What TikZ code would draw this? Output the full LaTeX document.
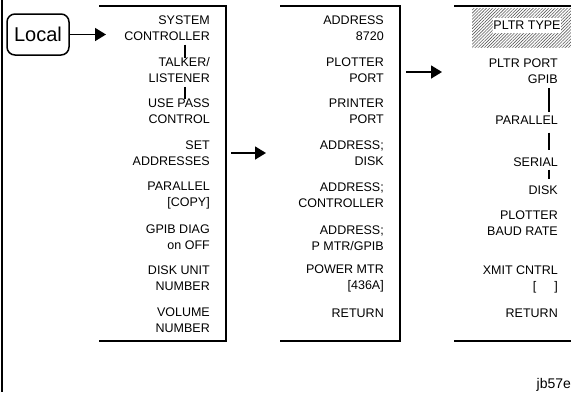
\documentclass[tikz,border=0pt]{standalone}
\usepackage{fontspec}
\setmainfont{Liberation Sans}
\usetikzlibrary{arrows.meta,patterns.meta}
\begin{document}
\begin{tikzpicture}[x=1pt,y=-1pt,
	item/.style={anchor=east,align=right,inner sep=0pt,font=\fontsize{12.5}{16}\selectfont},
	menu/.style={line width=2.5pt},
	link/.style={line width=1.5pt,shorten <=4pt,shorten >=-1pt},
	go/.style={line width=1.6pt,-{Triangle[length=11pt,width=13pt]}}]
	\useasboundingbox (0,0) rectangle (571,392);
	\draw[line width=1.5pt] (2,0)--(2,392);
	\node[draw,line width=1.5pt,rounded corners=8pt,minimum width=62pt,minimum height=41pt,font=\fontsize{20}{20}\selectfont] (local) at (38,34.5) {Local};
	\coordinate (lc) at (106,34.5);
	\draw[go] (local)--(lc);
	\draw[menu] (99,6)--(226,6)--(226,341)--(99,341);
	\node[item] (sc) at (210,28) {SYSTEM\\CONTROLLER};
	\node[item] (tl) at (210,70) {TALKER/\\LISTENER};
	\node[item] (up) at (210,111) {USE PASS\\CONTROL};
	\node[item] (sa) at (210,153) {SET\\ADDRESSES};
	\node[item] (pc) at (210,195) {PARALLEL\\{}[COPY]};
	\node[item] (gd) at (210,237) {GPIB DIAG\\on OFF};
	\node[item] (du) at (210,278) {DISK UNIT\\NUMBER};
	\node[item] (vn) at (210,320) {VOLUME\\NUMBER};
	\draw[link] ([xshift=-25pt]sc.south east)--([xshift=-25pt]tl.north east);
	\draw[link] ([xshift=-25pt]tl.south east)--([xshift=-25pt]up.north east);
	\coordinate (s1) at (231,153);
	\coordinate (e1) at (266,153);
	\draw[go] (s1)--(e1);
	\draw[menu] (280,6)--(400,6)--(400,341)--(280,341);
	\node[item] (ad) at (384,28) {ADDRESS\\8720};
	\node[item] (pp) at (384,70) {PLOTTER\\PORT};
	\node[item] (pr) at (384,111) {PRINTER\\PORT};
	\node[item] (dk) at (384,153) {ADDRESS;\\DISK};
	\node[item] (ct) at (384,195) {ADDRESS;\\CONTROLLER};
	\node[item] (pm) at (384,238) {ADDRESS;\\P MTR/GPIB};
	\node[item] (pw) at (384,278) {POWER MTR\\{}[436A]};
	\node[item] (rt2) at (384,313) {RETURN};
	\coordinate (s2) at (406,72);
	\coordinate (e2) at (442,72);
	\draw[go] (s2)--(e2);
	\draw[menu] (454,6)--(580,6);
	\draw[menu] (454,341)--(580,341);
	\fill[pattern={Lines[angle=45,distance=2.2pt,line width=0.6pt]},pattern color=black!65] (472,8.5) rectangle (580,47);
	\node[fill=white,minimum width=68pt,minimum height=15pt,inner sep=0pt,font=\fontsize{12.5}{16}\selectfont] (ty) at (527,25) {PLTR TYPE};
	\node[item] (po) at (558,71.5) {PLTR PORT\\GPIB};
	\node[item] (pa) at (558,120) {PARALLEL};
	\node[item] (se) at (558,162) {SERIAL};
	\node[item] (di) at (558,190) {DISK};
	\node[item] (br) at (558,223) {PLOTTER\\BAUD RATE};
	\node[item] (xc) at (558,279.5) {XMIT CNTRL\\{}[\hspace{18pt}]};
	\node[item] (rt3) at (558,313) {RETURN};
	\draw[link,shorten >=4pt] ([xshift=-9pt]po.south east)--([xshift=-9pt]pa.north east);
	\draw[link,shorten <=8pt,shorten >=7pt] ([xshift=-9pt]pa.south east)--([xshift=-9pt]se.north east);
	\draw[link,shorten <=3pt,shorten >=6pt] ([xshift=-9pt]se.south east)--([xshift=-9pt]di.north east);
	\node[anchor=base west,inner sep=0pt,font=\fontsize{14}{14}\selectfont] (id) at (536.5,388) {jb57e};
\end{tikzpicture}
\end{document}
